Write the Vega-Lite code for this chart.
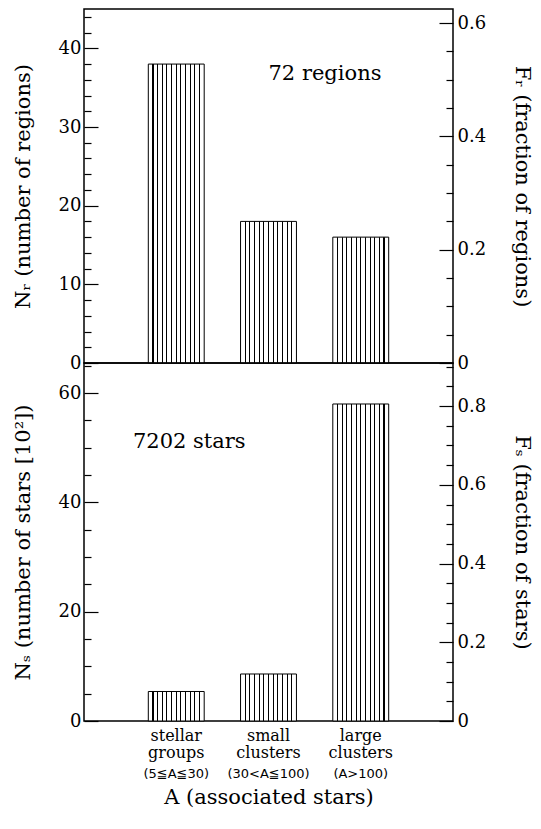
{
  "$schema": "https://vega.github.io/schema/vega-lite/v6.json",
  "background": "white",
  "padding": {"left": 11, "top": 8, "right": 5, "bottom": 5},
  "spacing": 0,
  "bounds": "flush",
  "config": {
    "font": "DejaVu Serif",
    "view": {"stroke": "black", "strokeWidth": 1.5},
    "axis": {
      "domain": false, "grid": false,
      "labelColor": "black", "titleColor": "black", "tickColor": "black",
      "labelFont": "DejaVu Serif", "titleFont": "DejaVu Serif",
      "labelFontSize": 18, "titleFontSize": 21, "titleFontWeight": "normal",
      "tickWidth": 1.2
    }
  },
  "datasets": {
    "regions": [
      {"group": "stellar groups|(5≦A≦30)", "N": 38, "F": 0.528},
      {"group": "small clusters|(30<A≦100)", "N": 18, "F": 0.25},
      {"group": "large clusters|(A>100)", "N": 16, "F": 0.222}
    ],
    "stars": [
      {"group": "stellar groups|(5≦A≦30)", "N": 5.4, "F": 0.075},
      {"group": "small clusters|(30<A≦100)", "N": 8.6, "F": 0.119},
      {"group": "large clusters|(A>100)", "N": 58.0, "F": 0.805}
    ]
  },
  "vconcat": [
    {
      "width": 369, "height": 354,
      "resolve": {"scale": {"y": "independent"}, "axis": {"y": "independent"}},
      "layer": [
        {
          "data": {"name": "regions"},
          "mark": {"type": "bar", "stroke": "black", "strokeWidth": 1,
            "fill": {"gradient": "linear", "x1": 0, "x2": 1, "y1": 0, "y2": 0, "stops": [
              {"offset": 0, "color": "white"},
              {"offset": 0.0733, "color": "white"}, {"offset": 0.0733, "color": "black"}, {"offset": 0.0933, "color": "black"}, {"offset": 0.0933, "color": "white"},
              {"offset": 0.1567, "color": "white"}, {"offset": 0.1567, "color": "black"}, {"offset": 0.1767, "color": "black"}, {"offset": 0.1767, "color": "white"},
              {"offset": 0.24, "color": "white"}, {"offset": 0.24, "color": "black"}, {"offset": 0.26, "color": "black"}, {"offset": 0.26, "color": "white"},
              {"offset": 0.3233, "color": "white"}, {"offset": 0.3233, "color": "black"}, {"offset": 0.3433, "color": "black"}, {"offset": 0.3433, "color": "white"},
              {"offset": 0.4067, "color": "white"}, {"offset": 0.4067, "color": "black"}, {"offset": 0.4267, "color": "black"}, {"offset": 0.4267, "color": "white"},
              {"offset": 0.49, "color": "white"}, {"offset": 0.49, "color": "black"}, {"offset": 0.51, "color": "black"}, {"offset": 0.51, "color": "white"},
              {"offset": 0.5733, "color": "white"}, {"offset": 0.5733, "color": "black"}, {"offset": 0.5933, "color": "black"}, {"offset": 0.5933, "color": "white"},
              {"offset": 0.6567, "color": "white"}, {"offset": 0.6567, "color": "black"}, {"offset": 0.6767, "color": "black"}, {"offset": 0.6767, "color": "white"},
              {"offset": 0.74, "color": "white"}, {"offset": 0.74, "color": "black"}, {"offset": 0.76, "color": "black"}, {"offset": 0.76, "color": "white"},
              {"offset": 0.8233, "color": "white"}, {"offset": 0.8233, "color": "black"}, {"offset": 0.8433, "color": "black"}, {"offset": 0.8433, "color": "white"},
              {"offset": 0.9067, "color": "white"}, {"offset": 0.9067, "color": "black"}, {"offset": 0.9267, "color": "black"}, {"offset": 0.9267, "color": "white"},
              {"offset": 1, "color": "white"}
            ]}
          },
          "encoding": {
            "x": {"field": "group", "type": "nominal", "sort": null,
              "scale": {"paddingInner": 0.394, "paddingOuter": 0.697}, "axis": null},
            "y": {"field": "N", "type": "quantitative",
              "scale": {"domain": [0, 45], "nice": false},
              "axis": {"orient": "left", "title": "Nᵣ (number of regions)",
                "values": [0, 10, 20, 30, 40], "offset": -14, "tickSize": 14,
                "labelPadding": 3, "titlePadding": 25}}
          }
        },
        {
          "data": {"name": "regions"},
          "mark": {"type": "bar", "opacity": 0},
          "encoding": {
            "x": {"field": "group", "type": "nominal", "sort": null, "axis": null},
            "y": {"field": "N", "type": "quantitative",
              "scale": {"domain": [0, 45], "nice": false},
              "axis": {"orient": "left", "title": null, "labels": false,
                "values": [2,4,6,8,12,14,16,18,22,24,26,28,32,34,36,38,42,44],
                "offset": -7, "tickSize": 7}}
          }
        },
        {
          "data": {"values": [{"label": "72 regions", "group": "small clusters|(30<A≦100)", "N": 36.8}]},
          "mark": {"type": "text", "align": "left", "baseline": "middle", "fontSize": 21, "font": "DejaVu Serif", "color": "black"},
          "encoding": {
            "x": {"field": "group", "type": "nominal", "sort": null, "axis": null},
            "y": {"field": "N", "type": "quantitative", "scale": {"domain": [0, 45], "nice": false}, "axis": null},
            "text": {"field": "label"}
          }
        },
        {
          "data": {"name": "regions"},
          "mark": {"type": "bar", "opacity": 0},
          "encoding": {
            "x": {"field": "group", "type": "nominal", "sort": null, "axis": null},
            "y": {"field": "F", "type": "quantitative",
              "scale": {"domain": [0, 0.625], "nice": false},
              "axis": {"orient": "right", "title": "Fᵣ (fraction of regions)", "format": ".1~f",
                "values": [0, 0.2, 0.4, 0.6], "offset": -14, "tickSize": 14,
                "labelPadding": 4, "titlePadding": 26}}
          }
        },
        {
          "data": {"name": "regions"},
          "mark": {"type": "bar", "opacity": 0},
          "encoding": {
            "x": {"field": "group", "type": "nominal", "sort": null, "axis": null},
            "y": {"field": "F", "type": "quantitative",
              "scale": {"domain": [0, 0.625], "nice": false},
              "axis": {"orient": "right", "title": null, "labels": false,
                "values": [0.05,0.1,0.15,0.25,0.3,0.35,0.45,0.5,0.55],
                "offset": -7, "tickSize": 7}}
          }
        }
      ]
    },
    {
      "width": 369, "height": 358,
      "resolve": {"scale": {"y": "independent"}, "axis": {"x": "independent", "y": "independent"}},
      "layer": [
        {
          "data": {"name": "stars"},
          "mark": {"type": "bar", "stroke": "black", "strokeWidth": 1,
            "fill": {"gradient": "linear", "x1": 0, "x2": 1, "y1": 0, "y2": 0, "stops": [
              {"offset": 0, "color": "white"},
              {"offset": 0.0733, "color": "white"}, {"offset": 0.0733, "color": "black"}, {"offset": 0.0933, "color": "black"}, {"offset": 0.0933, "color": "white"},
              {"offset": 0.1567, "color": "white"}, {"offset": 0.1567, "color": "black"}, {"offset": 0.1767, "color": "black"}, {"offset": 0.1767, "color": "white"},
              {"offset": 0.24, "color": "white"}, {"offset": 0.24, "color": "black"}, {"offset": 0.26, "color": "black"}, {"offset": 0.26, "color": "white"},
              {"offset": 0.3233, "color": "white"}, {"offset": 0.3233, "color": "black"}, {"offset": 0.3433, "color": "black"}, {"offset": 0.3433, "color": "white"},
              {"offset": 0.4067, "color": "white"}, {"offset": 0.4067, "color": "black"}, {"offset": 0.4267, "color": "black"}, {"offset": 0.4267, "color": "white"},
              {"offset": 0.49, "color": "white"}, {"offset": 0.49, "color": "black"}, {"offset": 0.51, "color": "black"}, {"offset": 0.51, "color": "white"},
              {"offset": 0.5733, "color": "white"}, {"offset": 0.5733, "color": "black"}, {"offset": 0.5933, "color": "black"}, {"offset": 0.5933, "color": "white"},
              {"offset": 0.6567, "color": "white"}, {"offset": 0.6567, "color": "black"}, {"offset": 0.6767, "color": "black"}, {"offset": 0.6767, "color": "white"},
              {"offset": 0.74, "color": "white"}, {"offset": 0.74, "color": "black"}, {"offset": 0.76, "color": "black"}, {"offset": 0.76, "color": "white"},
              {"offset": 0.8233, "color": "white"}, {"offset": 0.8233, "color": "black"}, {"offset": 0.8433, "color": "black"}, {"offset": 0.8433, "color": "white"},
              {"offset": 0.9067, "color": "white"}, {"offset": 0.9067, "color": "black"}, {"offset": 0.9267, "color": "black"}, {"offset": 0.9267, "color": "white"},
              {"offset": 1, "color": "white"}
            ]}
          },
          "encoding": {
            "x": {"field": "group", "type": "nominal", "sort": null,
              "scale": {"paddingInner": 0.394, "paddingOuter": 0.697},
              "axis": {"orient": "bottom", "title": null, "ticks": false, "domain": false,
                "labelAngle": 0, "labelOverlap": false, "labelFontSize": 16, "labelLineHeight": 17,
                "labelPadding": 6,
                "labelExpr": "split(split(datum.label, '|')[0], ' ')"}},
            "y": {"field": "N", "type": "quantitative",
              "scale": {"domain": [0, 65.5], "nice": false},
              "axis": {"orient": "left", "title": "Nₛ (number of stars [10²])",
                "values": [0, 20, 40, 60], "offset": -14, "tickSize": 14,
                "labelPadding": 3, "titlePadding": 25}}
          }
        },
        {
          "data": {"name": "stars"},
          "mark": {"type": "bar", "opacity": 0},
          "encoding": {
            "x": {"field": "group", "type": "nominal", "sort": null, "axis": null},
            "y": {"field": "N", "type": "quantitative",
              "scale": {"domain": [0, 65.5], "nice": false},
              "axis": {"orient": "left", "title": null, "labels": false,
                "values": [5,10,15,25,30,35,45,50,55,65],
                "offset": -7, "tickSize": 7}}
          }
        },
        {
          "data": {"values": [{"label": "7202 stars", "group": "stellar groups|(5≦A≦30)", "N": 51.0}]},
          "mark": {"type": "text", "align": "center", "baseline": "middle", "dx": 13, "fontSize": 21, "font": "DejaVu Serif", "color": "black"},
          "encoding": {
            "x": {"field": "group", "type": "nominal", "sort": null, "axis": null},
            "y": {"field": "N", "type": "quantitative", "scale": {"domain": [0, 65.5], "nice": false}, "axis": null},
            "text": {"field": "label"}
          }
        },
        {
          "data": {"name": "stars"},
          "mark": {"type": "bar", "opacity": 0},
          "encoding": {
            "x": {"field": "group", "type": "nominal", "sort": null,
              "axis": {"orient": "bottom", "offset": 46, "title": "A (associated stars)", "ticks": false, "domain": false,
                "labelAngle": 0, "labelOverlap": false, "labelFont": "DejaVu Sans", "labelFontSize": 13,
                "labelPadding": 0, "titlePadding": 6, "titleFontSize": 21,
                "labelExpr": "split(datum.label, '|')[1]"}},
            "y": {"field": "F", "type": "quantitative",
              "scale": {"domain": [0, 0.9095], "nice": false},
              "axis": {"orient": "right", "title": "Fₛ (fraction of stars)", "format": ".1~f",
                "values": [0, 0.2, 0.4, 0.6, 0.8], "offset": -14, "tickSize": 14,
                "labelPadding": 4, "titlePadding": 26}}
          }
        },
        {
          "data": {"name": "stars"},
          "mark": {"type": "bar", "opacity": 0},
          "encoding": {
            "x": {"field": "group", "type": "nominal", "sort": null, "axis": null},
            "y": {"field": "F", "type": "quantitative",
              "scale": {"domain": [0, 0.9095], "nice": false},
              "axis": {"orient": "right", "title": null, "labels": false,
                "values": [0.05,0.1,0.15,0.25,0.3,0.35,0.45,0.5,0.55,0.65,0.7,0.75,0.85,0.9],
                "offset": -7, "tickSize": 7}}
          }
        }
      ]
    }
  ]
}
